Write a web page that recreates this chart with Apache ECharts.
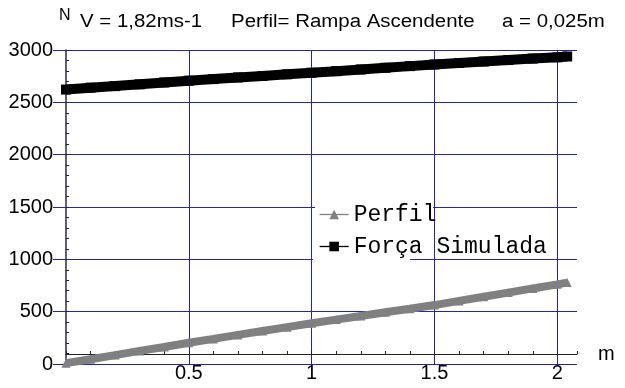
<!DOCTYPE html>
<html><head><meta charset="utf-8">
<script src="https://cdn.jsdelivr.net/npm/echarts@6/dist/echarts.min.js"></script>
<style>html,body{margin:0;padding:0;background:#fff}#c{width:625px;height:388px}</style>
</head><body><div id="c"></div>
<script>
// Data
const xValues       = [0, 0.1, 0.2, 0.3, 0.4, 0.5, 0.6, 0.7, 0.8, 0.9, 1.0, 1.1, 1.2, 1.3, 1.4, 1.5, 1.6, 1.7, 1.8, 1.9, 2.0, 2.04];
const forcaSimulada = [2622, 2640, 2655, 2672, 2690, 2707, 2722, 2738, 2752, 2768, 2783, 2798, 2814, 2830, 2846, 2862, 2876, 2890, 2904, 2918, 2930, 2938];
const perfil        = [8, 45, 85, 125, 163, 203, 240, 278, 315, 352, 389, 424, 459, 494, 528, 563, 603, 643, 682, 722, 761, 778];
const yTickLabels   = ['0', '500', '1000', '1500', '2000', '2500', '3000'];
const xTickLabels   = ['0.5', '1', '1.5', '2'];
const titleParts    = ['N', 'V = 1,82ms-1', 'Perfil= Rampa Ascendente', 'a = 0,025m'];
const seriesNames   = ['Perfil', 'Força Simulada'];

const BLUE = '#2323b4';
const chart = echarts.init(document.getElementById('c'), null, {renderer: 'canvas'});
const pair = (xs, ys) => xs.map((x, i) => [x, ys[i]]);
const xLabel = v => { const s = String(+v.toFixed(2)); return xTickLabels.indexOf(s) >= 0 ? s : ''; };
const yLabel = v => { const s = String(Math.round(v)); return yTickLabels.indexOf(s) >= 0 ? s : ''; };

chart.setOption({
  animation: false,
  backgroundColor: '#fff',
  textStyle: {fontFamily: 'Liberation Sans'},
  grid: {left: 66, right: 48, top: 50, bottom: 24, containLabel: false},
  xAxis: [
    {
      type: 'value', min: 0, max: 2.08, interval: 0.5,
      axisLine: {show: false, onZero: false},
      axisTick: {show: false},
      axisLabel: {show: true, margin: -1, fontSize: 20, color: '#000', fontFamily: 'Liberation Sans', formatter: xLabel},
      splitLine: {show: true, showMinLine: false, showMaxLine: false, lineStyle: {color: BLUE, width: 1}}
    },
    {
      type: 'value', min: 0, max: 2.08, interval: 0.1, position: 'bottom', offset: -10,
      name: 'm', nameLocation: 'end', nameGap: 21,
      nameTextStyle: {fontSize: 20, color: '#000', fontFamily: 'Liberation Sans', padding: [0, 0, 12, 0]},
      axisLine: {show: true, onZero: false, lineStyle: {color: '#222', width: 1.2}},
      axisTick: {show: true, inside: true, length: 3, lineStyle: {color: '#222'}},
      axisLabel: {show: false},
      splitLine: {show: false}
    }
  ],
  yAxis: [
    {
      type: 'value', min: 0, max: 3000, interval: 500,
      axisLine: {show: true, onZero: false, lineStyle: {color: '#2a2a4a', width: 1.5}},
      axisTick: {show: true, inside: false, length: 13, lineStyle: {color: BLUE}},
      axisLabel: {show: true, margin: 13, fontSize: 20, color: '#000', fontFamily: 'Liberation Sans', formatter: yLabel},
      splitLine: {show: true, lineStyle: {color: BLUE, width: 1}}
    },
    {
      type: 'value', min: 0, max: 3000, interval: 100, position: 'left',
      axisLine: {show: false, onZero: false},
      axisTick: {show: true, inside: true, length: 3, lineStyle: {color: '#222'}},
      axisLabel: {show: false},
      splitLine: {show: false}
    }
  ],
  legend: {
    orient: 'vertical', left: 319, top: 203, padding: 0,
    itemWidth: 29, itemHeight: 12, itemGap: 9,
    data: seriesNames,
    lineStyle: {width: 1.3},
    textStyle: {fontFamily: 'Liberation Mono', fontSize: 23, color: '#000', lineHeight: 20}
  },
  graphic: [
    {type: 'rect', z: 3, shape: {x: 315, y: 205, width: 118, height: 4}, style: {fill: '#fff'}, silent: true},
    {type: 'rect', z: 3, shape: {x: 313, y: 257, width: 97, height: 5}, style: {fill: '#fff'}, silent: true},
    {type: 'text', x: 59, y: 8, style: {text: titleParts[0], fontSize: 16, fontFamily: 'Liberation Sans', fill: '#000'}},
    {type: 'text', x: 80, y: 13, scaleX: 1.135, style: {text: titleParts[1], fontSize: 18, fontFamily: 'Liberation Sans', fill: '#000'}},
    {type: 'text', x: 231, y: 13, scaleX: 1.135, style: {text: titleParts[2], fontSize: 18, fontFamily: 'Liberation Sans', fill: '#000'}},
    {type: 'text', x: 502, y: 13, scaleX: 1.135, style: {text: titleParts[3], fontSize: 18, fontFamily: 'Liberation Sans', fill: '#000'}}
  ],
  series: [
    {
      name: seriesNames[0], type: 'line', xAxisIndex: 0, yAxisIndex: 0,
      data: pair(xValues, perfil), clip: false,
      symbol: 'triangle', symbolSize: 9, showSymbol: true,
      lineStyle: {color: '#808080', width: 8},
      itemStyle: {color: '#808080'}
    },
    {
      name: seriesNames[1], type: 'line', xAxisIndex: 0, yAxisIndex: 0,
      data: pair(xValues, forcaSimulada), clip: false,
      symbol: 'rect', symbolSize: 10, showSymbol: true,
      lineStyle: {color: '#000', width: 10},
      itemStyle: {color: '#000'}
    }
  ]
});
</script>
</body></html>
